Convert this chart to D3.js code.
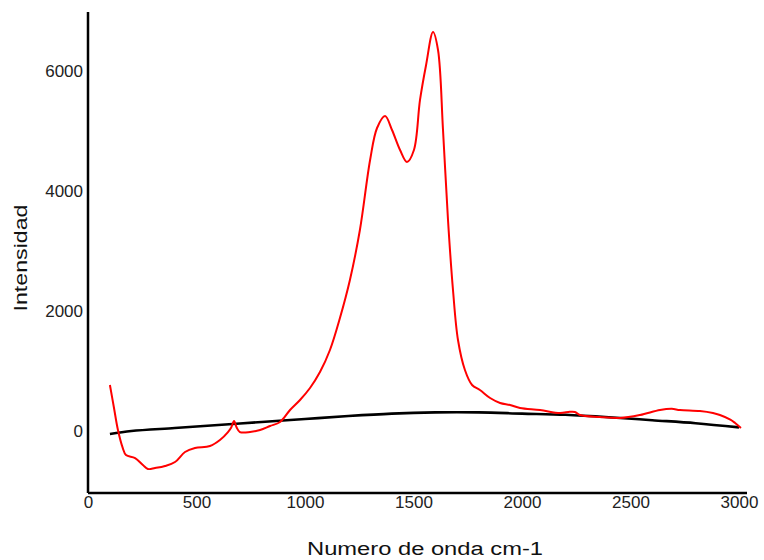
<!DOCTYPE html>
<html>
<head>
<meta charset="utf-8">
<script src="https://cdn.jsdelivr.net/npm/d3@7"></script>
<style>
body { margin: 0; background: #fff; }
text { font-family: "Liberation Sans", Arial, sans-serif; }
</style>
</head>
<body>
<svg id="svg"></svg>
<script>
var width = 764, height = 560;
var svg = d3.select("#svg")
	.attr("width", width)
	.attr("height", height);

// wavenumber (cm-1) and intensity
var redX = [101, 120, 138, 160, 175, 217, 253, 276, 309, 355, 401, 447, 493, 562, 608, 645, 660, 673, 685, 700, 747, 793, 839, 885, 931, 977, 1023, 1069, 1115, 1161, 1207, 1253, 1300, 1332, 1369, 1401, 1438, 1470, 1502, 1530, 1558, 1590, 1613, 1636, 1659, 1682, 1705, 1737, 1770, 1806, 1853, 1899, 1945, 1991, 2083, 2175, 2220, 2244, 2267, 2359, 2452, 2544, 2636, 2690, 2728, 2820, 2880, 2912, 2960, 2982, 3009];
var redY = [767, 380, 17, -280, -400, -450, -567, -633, -617, -583, -517, -350, -283, -250, -150, -17, 60, 167, 60, -17, -17, 17, 83, 150, 350, 517, 717, 983, 1350, 1883, 2517, 3350, 4517, 5050, 5250, 5017, 4683, 4483, 4683, 5517, 6100, 6650, 6350, 5017, 3517, 2350, 1517, 1017, 767, 683, 550, 467, 433, 383, 350, 300, 320, 317, 267, 233, 217, 267, 350, 370, 350, 333, 300, 267, 190, 133, 50];

var blackX = [101, 200, 400, 600, 800, 1000, 1200, 1400, 1600, 1800, 2000, 2200, 2400, 2600, 2800, 3000];
var blackY = [-50, 0, 50, 100, 150, 200, 250, 290, 310, 310, 290, 270, 230, 180, 130, 60];

var xTicks = [0, 500, 1000, 1500, 2000, 2500, 3000];
var yTicks = [0, 2000, 4000, 6000];

var x = d3.scaleLinear().domain([0, 3000]).range([88, 739]);
var y = d3.scaleLinear().domain([-1033, 6983]).range([493, 12]);

var line = d3.line()
	.x(function(d) { return x(d[0]); })
	.y(function(d) { return y(d[1]); })
	.curve(d3.curveCatmullRom);

var black = d3.zip(blackX, blackY);
var red = d3.zip(redX, redY);

svg.append("path")
	.datum(black)
	.attr("d", line)
	.attr("fill", "none")
	.attr("stroke", "#000")
	.attr("stroke-width", 2.6);

svg.append("path")
	.datum(red)
	.attr("d", line)
	.attr("fill", "none")
	.attr("stroke", "#ff0000")
	.attr("stroke-width", 2);

// axes: plain lines, no tick marks
var xAxis = svg.append("g")
	.attr("transform", "translate(0,493)")
	.call(d3.axisBottom(x).tickValues(xTicks).tickSize(0).tickPadding(3).tickFormat(d3.format("d")));
xAxis.select(".domain").attr("d", "M88,0H747").attr("stroke", "#000").attr("stroke-width", 2.5);
xAxis.selectAll("text").attr("font-size", "17px").attr("fill", "#222").style("font-family", "Liberation Sans, Arial, sans-serif");

var yAxis = svg.append("g")
	.attr("transform", "translate(88,0)")
	.call(d3.axisLeft(y).tickValues(yTicks).tickSize(0).tickPadding(5).tickFormat(d3.format("d")));
yAxis.select(".domain").attr("d", "M0,12V493").attr("stroke", "#000").attr("stroke-width", 2.5);
yAxis.selectAll("text").attr("font-size", "17px").attr("fill", "#222").style("font-family", "Liberation Sans, Arial, sans-serif");

svg.append("text")
	.attr("x", 425)
	.attr("y", 555)
	.attr("text-anchor", "middle")
	.attr("font-size", "18px")
	.attr("fill", "#111")
	.attr("textLength", 236)
	.attr("lengthAdjust", "spacingAndGlyphs")
	.text("Numero de onda cm-1");

svg.append("text")
	.attr("transform", "translate(27,258) rotate(-90)")
	.attr("text-anchor", "middle")
	.attr("font-size", "19px")
	.attr("fill", "#111")
	.attr("textLength", 107)
	.attr("lengthAdjust", "spacingAndGlyphs")
	.text("Intensidad");
</script>
</body>
</html>
